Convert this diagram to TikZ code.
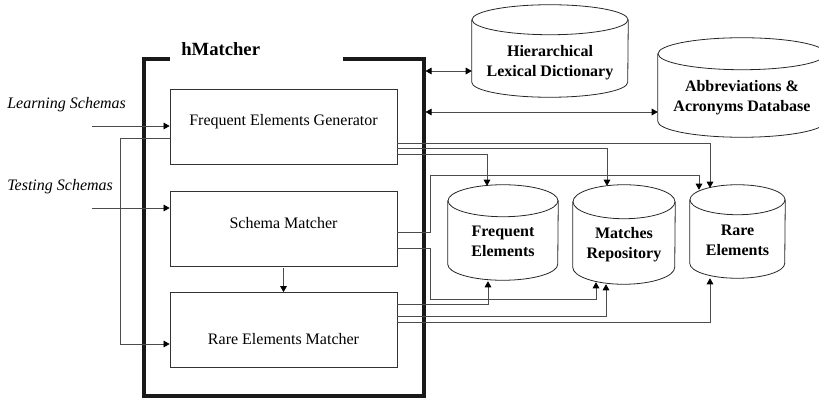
\documentclass[tikz,border=0pt]{standalone}
\usepackage{fontspec}
\setmainfont{Liberation Serif}
\usetikzlibrary{arrows.meta,calc}

\tikzset{
  blk/.style={draw=black!80,line width=0.6pt,minimum width=170.25pt,minimum height=56.25pt,inner sep=0pt},
  db/.style={inner sep=0pt},
  dbln/.style={draw=black!85,line width=0.6pt},
  lbl/.style={font=\fontsize{12}{14.5}\selectfont,inner sep=0pt},
  dblbl/.style={font=\fontsize{12}{15}\selectfont\bfseries,align=center,inner sep=0pt},
  ln/.style={draw=black!70,line width=0.5pt},
  arr/.style={ln,-{Triangle[length=4.5pt,width=5pt,color=black]}},
  darr/.style={ln,{Triangle[length=4.5pt,width=5pt,color=black]}-{Triangle[length=4.5pt,width=5pt,color=black]}},
  frm/.style={draw=black!90,line width=3.2pt},
}

% cylinder outline round a db node: #1 name, #2 half width, #3 cap half height
\newcommand{\dbdraw}[3]{%
  \draw[dbln] ($(#1.north)+(0,#3)$) ellipse[x radius=#2,y radius=#3];
  \draw[dbln] ($(#1.north west)+(0,#3)$) -- ($(#1.south west)+(0,-#3)$)
    arc[start angle=180,end angle=0,x radius=#2,y radius=#3] -- ($(#1.north east)+(0,#3)$);
}

\begin{document}
\begin{tikzpicture}[x=0.75pt,y=0.75pt,yscale=-1,xscale=1]
\useasboundingbox (0,0) rectangle (819,399);

% hMatcher frame
\node[minimum width=209.4pt,minimum height=252.4pt,inner sep=0pt] (hm) at (284.1,227.25) {};
\draw[frm] ($(hm.north west)+(25.5,0)$) -- (hm.north west) -- (hm.south west) -- (hm.south east) -- (hm.north east) -- ($(hm.north east)+(-80.7,0)$);
\node[anchor=base west,inner sep=0pt,font=\fontsize{14}{17}\selectfont\bfseries] (title) at (181,56) {hMatcher};

% boxes
\node[blk] (feg) at (283.5,126.5) {};
\node[blk] (sm) at (283.5,228.5) {};
\node[blk] (rem) at (283.5,330) {};
\node[lbl,anchor=base] (feg-t) at (283.5,126) {Frequent Elements Generator};
\node[lbl,anchor=base] (sm-t) at (283.5,228.3) {Schema Matcher};
\node[lbl,anchor=base] (rem-t) at (283.5,344.3) {Rare Elements Matcher};

% inputs
\node[lbl,anchor=base west,font=\fontsize{12}{14.5}\selectfont\itshape] (ls-t) at (7,109) {Learning Schemas};
\node[lbl,anchor=base west,font=\fontsize{12}{14.5}\selectfont\itshape] (ts-t) at (7,190.5) {Testing Schemas};
\coordinate (ls) at (92,126);
\coordinate (ts) at (92,208);

% databases
\node[db,minimum width=117pt,minimum height=69pt] (dict) at (550,51) {};
\node[db,minimum width=126pt,minimum height=74.25pt] (abbr) at (742,87.5) {};
\node[db,minimum width=82.5pt,minimum height=71.25pt] (freq) at (503,232.5) {};
\node[db,minimum width=76.5pt,minimum height=74.25pt] (match) at (624,234.5) {};
\node[db,minimum width=71.25pt,minimum height=69.75pt] (rare) at (737.5,231.5) {};
\dbdraw{dict}{78}{15}
\dbdraw{abbr}{84}{16}
\dbdraw{freq}{55}{16}
\dbdraw{match}{51}{17}
\dbdraw{rare}{47.5}{15}
\node[dblbl] (dict-t) at (550,62.5) {Hierarchical\\Lexical Dictionary};
\node[dblbl] (abbr-t) at (742,97.6) {Abbreviations \&\\Acronyms Database};
\node[dblbl] (freq-t) at (503,241.5) {Frequent\\Elements};
\node[dblbl] (match-t) at (624,244.5) {Matches\\Repository};
\node[dblbl] (rare-t) at (737.5,240.8) {Rare\\Elements};

% connectors
\draw[arr] (ls) -- (feg.west |- ls);
\draw[arr] (ts) -- (sm.west |- ts);
\draw[arr] ($(feg.west)+(0,11.5)$) -- ++(-49,0) |- ($(rem.west)+(0,14)$);
\draw[arr] ($(sm.south)+(0,2)$) -- (rem.north);

\coordinate (dict-in) at ($(dict.west)+(0,20)$);
\coordinate (abbr-in) at ($(abbr.west)+(0,24.5)$);
\draw[darr] ([xshift=1.2pt]hm.east |- dict-in) -- (dict-in);
\draw[darr] ([xshift=1.2pt]hm.east |- abbr-in) -- (abbr-in);

\draw[arr] ($(feg.east)+(0,27.5)$) -| ($(freq.north)+(-16,1)$);
\draw[arr] ($(feg.east)+(0,21.5)$) -| ($(match.north)+(-17,1)$);
\draw[arr] ($(feg.east)+(0,16.5)$) -| ($(rare.north)+(-27.5,3)$);

\draw[arr] ($(sm.east)+(0,3.5)$) -- ++(33,0) |- ($(rare.north)+(-38.5,-9)$) -- ($(rare.north)+(-38.5,5)$);
\draw[arr] ($(sm.east)+(0,19.5)$) -- ++(33,0) |- ($(match.south)+(-28,15)$) -- ($(match.south)+(-28,-2)$);

\draw[arr] ($(rem.east)+(0,-26)$) -| ($(freq.south)+(-15,1)$);
\draw[arr] ($(rem.east)+(0,-14)$) -| ($(match.south)+(-18,0)$);
\draw[arr] ($(rem.east)+(0,-8)$) -| ($(rare.south)+(-27.5,0)$);

\end{tikzpicture}
\end{document}
